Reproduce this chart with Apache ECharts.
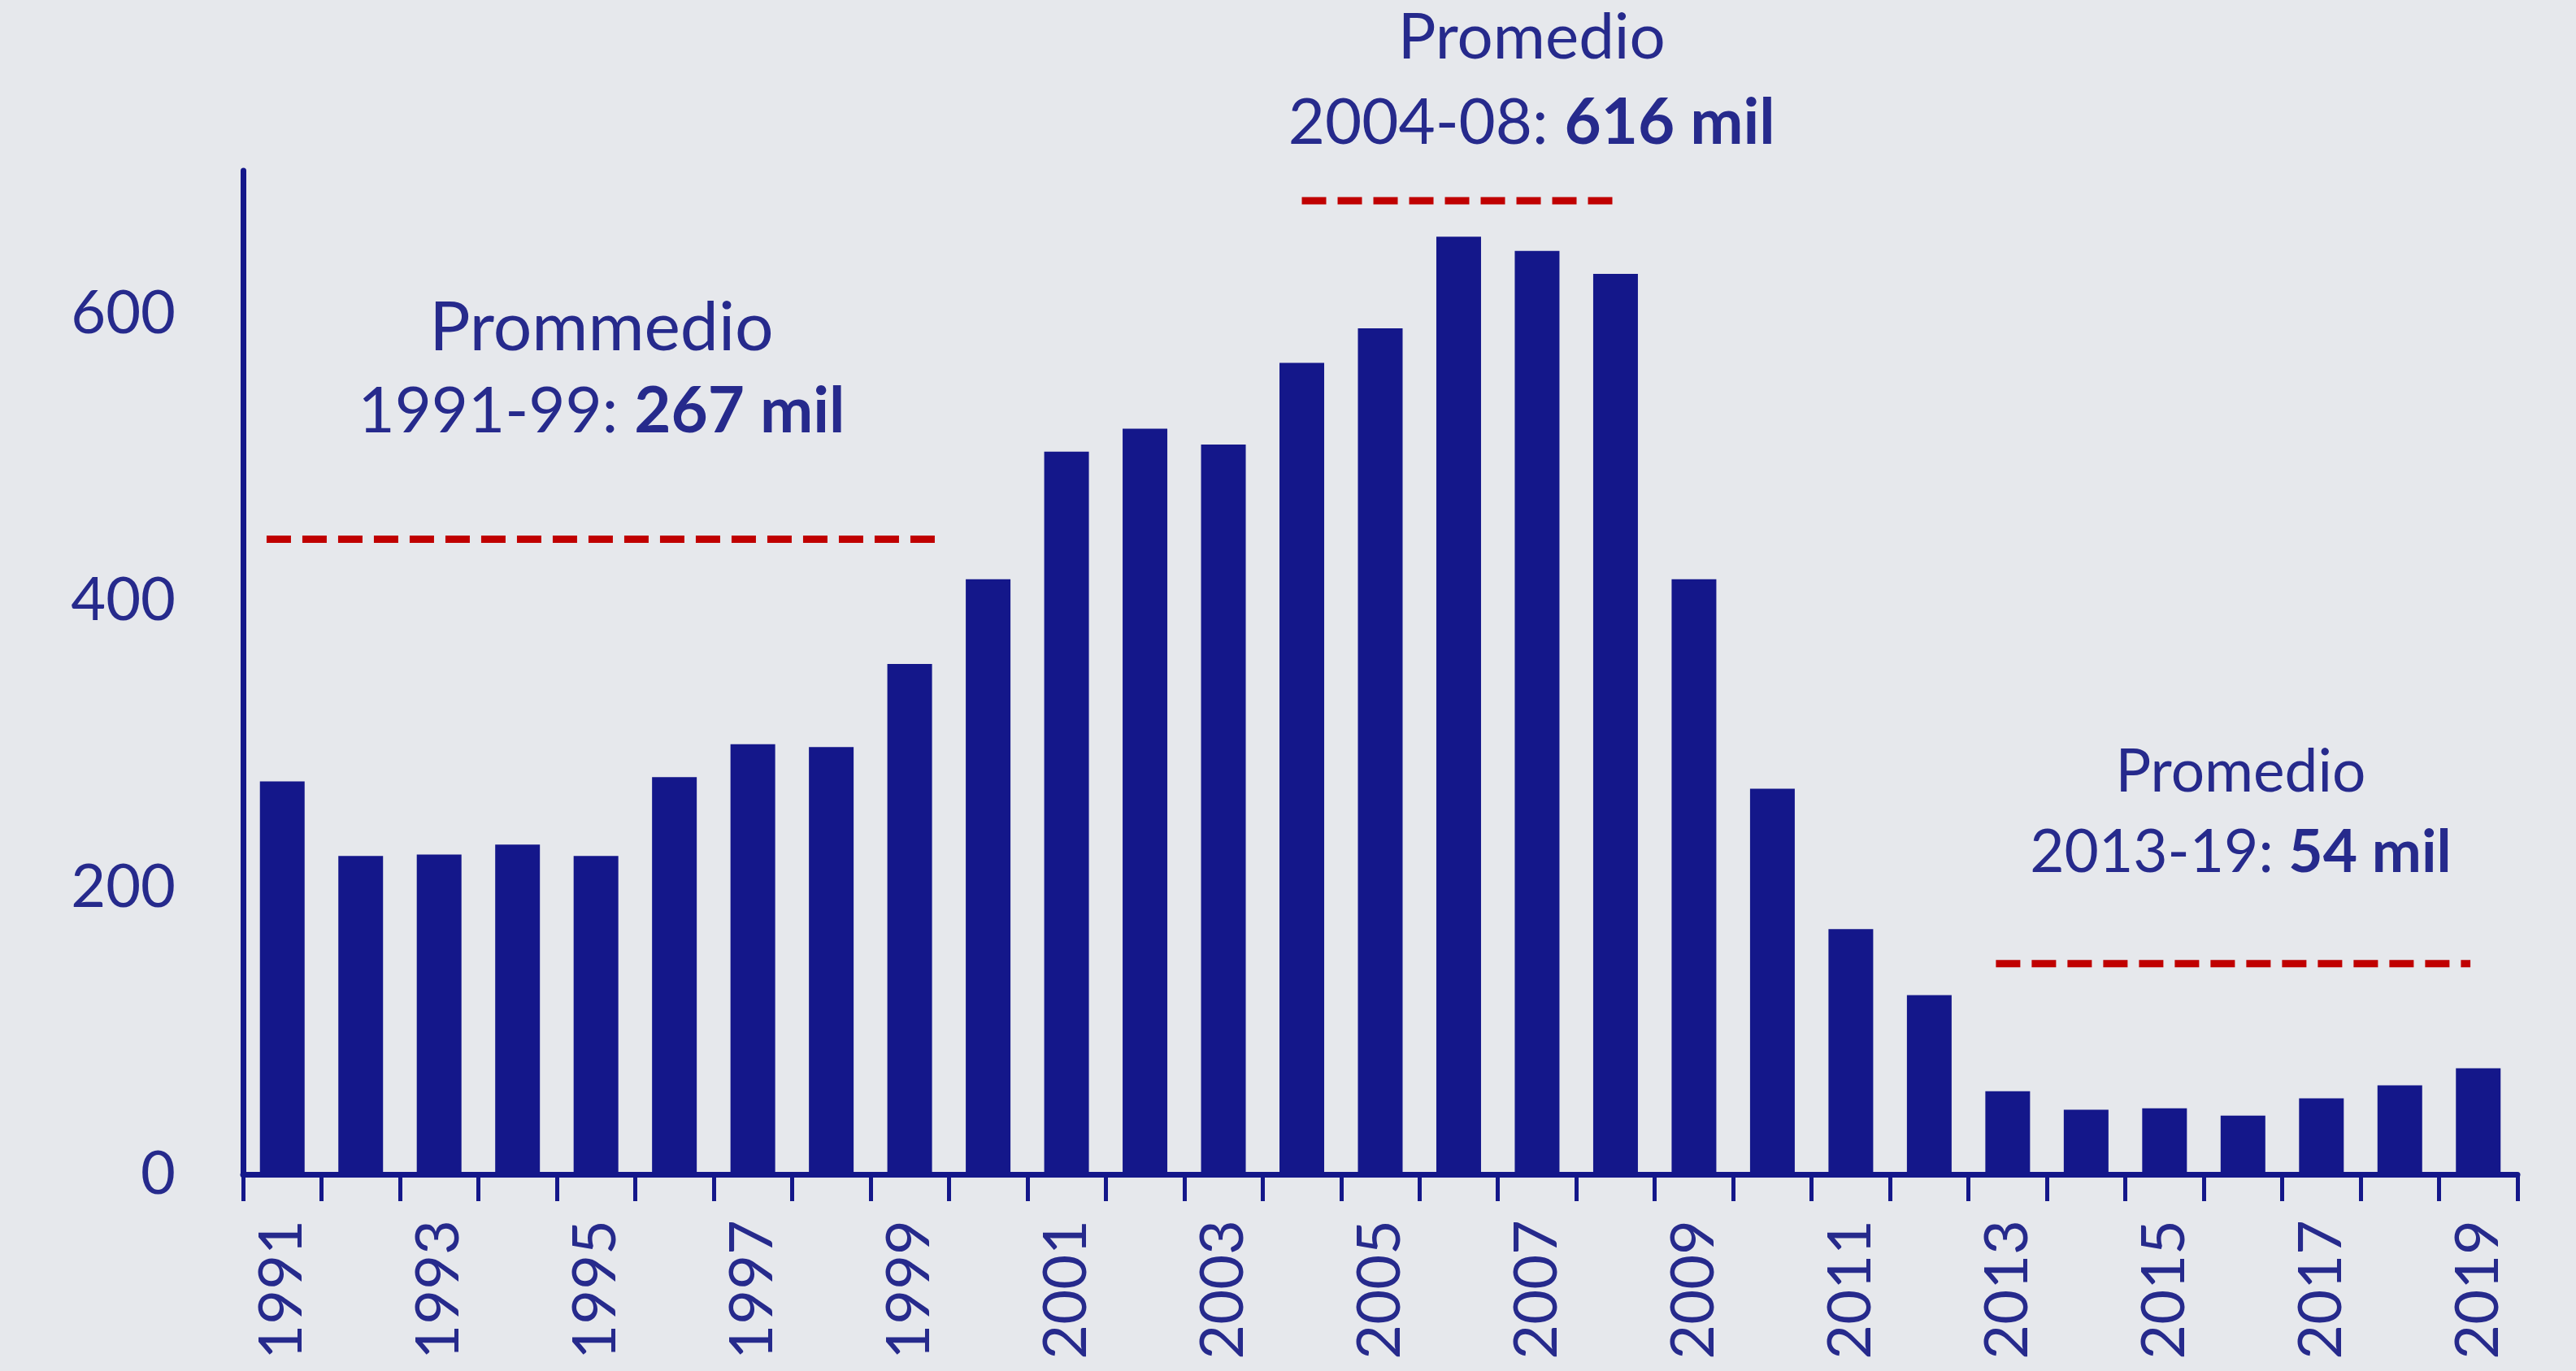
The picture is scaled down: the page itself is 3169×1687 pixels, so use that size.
<!DOCTYPE html>
<html>
<head>
<meta charset="utf-8">
<script src="https://cdn.jsdelivr.net/npm/echarts@6/dist/echarts.min.js"></script>
<style>
html,body{margin:0;padding:0;background:#E6E8EC;}
#chart{width:3169px;height:1687px;}
</style>
</head>
<body>
<div id="chart"></div>
<script>
// ---- data ----
const years = ['1991','1992','1993','1994','1995','1996','1997','1998','1999','2000',
  '2001','2002','2003','2004','2005','2006','2007','2008','2009','2010',
  '2011','2012','2013','2014','2015','2016','2017','2018','2019'];
const values = [274,222,223,230,222,277,300,298,356,415,
  504,520,509,566,590,654,644,628,415,269,
  171,125,58,45,46,41,53,62,74];
const yTicks = [0,200,400,600];
const avgTitles = ['Prommedio','Promedio','Promedio'];
const avgPeriods = ['1991-99','2004-08','2013-19'];
const avgValues = [267,616,54];
// dashed marker lines: level on the y scale and span in category units
const avgLineLevels = [443,679,147];
const avgLineSpans = [[0.3,8.9],[13.5,17.6],[22.35,28.4]];
// annotation anchors (category units, y value)
const avgTextAnchors = [[4.57,561],[16.43,763],[25.47,252]];

const navy = '#14178A';
const textColor = '#262A8C';
const font = 'Lato';

const chart = echarts.init(document.getElementById('chart'), null, {renderer:'canvas'});

const lineSeries = avgLineLevels.map((lvl,i)=>({
  type:'line', xAxisIndex:1, yAxisIndex:0, symbol:'none', silent:true,
  data:[[avgLineSpans[i][0],lvl],[avgLineSpans[i][1],lvl]],
  lineStyle:{color:'#C00000', width:9, type:[30,14], cap:'butt'},
  z:5
}));

const richFor = (size, lh) => ({
  t:{fontFamily:font, fontSize:size[0], color:textColor, lineHeight:lh},
  a:{fontFamily:font, fontSize:size[1], color:textColor, lineHeight:lh},
  b:{fontFamily:font, fontSize:size[1], fontWeight:'bold', color:textColor, lineHeight:lh}
});
const labelSizes = [[84,78,103],[78,78,105],[73,73,99]];

const textSeries = {
  type:'scatter', xAxisIndex:1, yAxisIndex:0, clip:false, silent:true,
  symbolSize:2, itemStyle:{color:'rgba(0,0,0,0)', opacity:1},
  data: avgTextAnchors.map((p,i)=>({
    value:p,
    label:{rich:richFor(labelSizes[i], labelSizes[i][2])}
  })),
  label:{
    show:true, position:'inside', opacity:1,
    formatter:(p)=>{
      const i = p.dataIndex;
      return '{t|'+avgTitles[i]+'}\n{a|'+avgPeriods[i]+': }{b|'+avgValues[i]+' mil}';
    }
  },
  labelLayout:{hideOverlap:false},
  z:6
};

const option = {
  backgroundColor:'#E6E8EC',
  animation:false,
  grid:{left:299, right:72, top:210, bottom:242, containLabel:false},
  xAxis:[{
    type:'category', data:years, boundaryGap:true,
    axisLine:{show:true, lineStyle:{color:navy, width:7}},
    axisTick:{show:true, interval:0, length:33, lineStyle:{color:navy, width:5}},
    axisLabel:{interval:1, rotate:90, margin:56, fontFamily:font, fontSize:74, color:textColor},
    splitLine:{show:false}
  },{
    type:'value', min:0, max:29, show:false
  }],
  yAxis:[{
    type:'value', min:0, max:700, interval:200,
    axisLine:{show:true, lineStyle:{color:navy, width:7}},
    axisTick:{show:false},
    splitLine:{show:false},
    axisLabel:{showMaxLabel:false, margin:83, fontFamily:font, fontSize:74, color:textColor,
      formatter:(v)=> yTicks.includes(v) ? String(v) : ''}
  }],
  series:[
    {type:'bar', data:values, barWidth:'57%', itemStyle:{color:navy}, z:3},
    ...lineSeries,
    textSeries
  ]
};
chart.setOption(option);
</script>
</body>
</html>
